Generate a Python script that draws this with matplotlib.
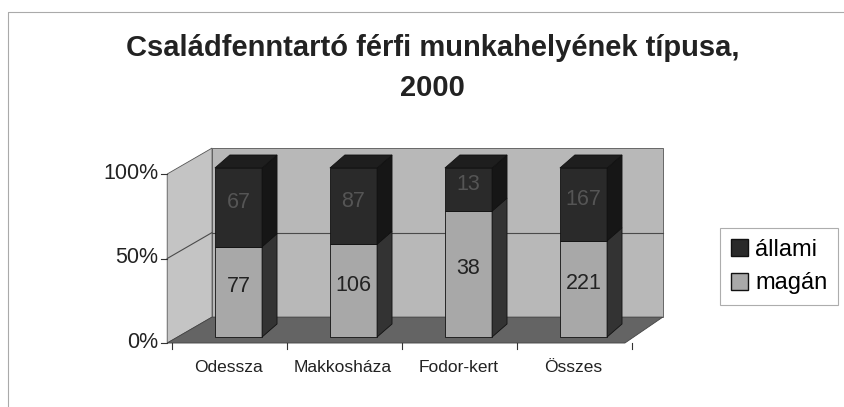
#Családfenntartó férfi munkahelye - 3D-s oszlopdiagram utánzat
import numpy as np
import matplotlib.pyplot as plt
from matplotlib.patches import Polygon, Rectangle, Patch
from matplotlib.lines import Line2D

categories = ['Odessza', 'Makkosháza', 'Fodor-kert', 'Összes']
magan = [77, 106, 38, 221]
allami = [67, 87, 13, 167]
series_names = ['állami', 'magán']
yticks = [0, 50, 100]
ytick_labels = ['0%', '50%', '100%']


def main():
    plt.rcParams['font.family'] = ['Liberation Sans', 'DejaVu Sans']

    magan_pct = 100 * np.array(magan) / (np.array(magan) + np.array(allami))

    fig = plt.figure(figsize=(8.45, 4.07), dpi=100)
    ax = fig.add_axes([0, 0, 1, 1])
    ax.set_xlim(-2.074, 5.274)
    ax.set_ylim(-41.4, 199.4)
    ax.axis('off')

    # falak es padlo (hatso sik es elso sik)
    bx0, bx1, by0 = -0.23, 3.69, 11.8
    fdx, fdy = -0.39, -15.35
    ax.add_patch(Rectangle((bx0, by0), bx1 - bx0, 100, facecolor='#b8b8b8',
                           edgecolor='#555555', lw=0.6, zorder=1))
    ax.add_patch(Polygon([(bx0 + fdx, by0 + fdy), (bx0, by0), (bx0, by0 + 100),
                          (bx0 + fdx, by0 + fdy + 100)], closed=True,
                         facecolor='#c4c4c4', edgecolor='#555555', lw=0.6, zorder=1))
    ax.add_patch(Polygon([(bx0 + fdx, by0 + fdy), (bx1 + fdx + 0.06, by0 + fdy),
                          (bx1, by0), (bx0, by0)], closed=True,
                         facecolor='#646464', edgecolor='#444444', lw=0.6, zorder=1))

    # racsvonal 50%-nal
    ax.plot([bx0, bx1], [by0 + 50, by0 + 50], color='#4a4a4a', lw=0.8, zorder=2)
    ax.plot([bx0 + fdx, bx0], [by0 + fdy + 50, by0 + 50], color='#4a4a4a', lw=0.8, zorder=2)

    # y tengely
    for t, lab in zip(yticks, ytick_labels):
        y = t + by0 + fdy
        ax.plot([bx0 + fdx - 0.05, bx0 + fdx], [y, y], color='#333333', lw=0.8, zorder=2)
        ax.text(bx0 + fdx - 0.08, y + 0.5, lab, ha='right', va='center',
                fontsize=15.5, color='#222222')

    # x tengely osztasok
    for i in range(len(categories) + 1):
        x = i - 0.58
        ax.plot([x, x], [by0 + fdy, by0 + fdy - 3.5], color='#333333', lw=0.8, zorder=2)

    # oszlopok
    w = 0.41
    dx, dy = 0.13, 7.7
    for i in range(len(categories)):
        segs = [(0, magan_pct[i], '#a8a8a8', '#333333', magan[i], '#222222'),
                (magan_pct[i], 100 - magan_pct[i], '#2a2a2a', '#161616', allami[i], '#555555')]
        z = 3 + i
        for b, h, fc, sc, val, tc in segs:
            ax.bar(i, h, bottom=b, width=w, color=fc, edgecolor='#111111', lw=0.6, zorder=z)
            ax.add_patch(Polygon([(i + w / 2, b), (i + w / 2 + dx, b + dy),
                                  (i + w / 2 + dx, b + h + dy), (i + w / 2, b + h)],
                                 closed=True, facecolor=sc, edgecolor='#111111',
                                 lw=0.6, zorder=z))
            ax.text(i, b + h / 2 + 3, str(val), ha='center', va='center',
                    fontsize=15.5, color=tc, zorder=z + 0.5)
        ax.add_patch(Polygon([(i - w / 2, 100), (i + w / 2, 100),
                              (i + w / 2 + dx, 100 + dy), (i - w / 2 + dx, 100 + dy)],
                             closed=True, facecolor='#1e1e1e', edgecolor='#111111',
                             lw=0.6, zorder=z))
        ax.text(i - 0.09, -17.8, categories[i], ha='center', va='center',
                fontsize=12.5, color='#222222')

    fig.text(0.512, 0.833, 'Családfenntartó férfi munkahelyének típusa,\n2000',
             ha='center', va='center', fontsize=21, fontweight='bold',
             color='#222222', linespacing=1.55)

    handles = [Patch(facecolor='#2a2a2a', edgecolor='#111111'),
               Patch(facecolor='#a8a8a8', edgecolor='#111111')]
    leg = ax.legend(handles, series_names, loc='center left',
                    bbox_to_anchor=(720 / 845, (407 - 266.5) / 407),
                    bbox_transform=fig.transFigure, fontsize=17, frameon=True,
                    fancybox=False, handlelength=0.75, handleheight=0.75,
                    handletextpad=0.3, borderpad=0.45, labelspacing=0.5,
                    borderaxespad=0)
    leg.get_frame().set_edgecolor('#999999')
    leg.get_frame().set_linewidth(0.8)

    # keret a diagram korul
    fig.add_artist(Line2D([8 / 845, 8 / 845, 1], [0, 395 / 407, 395 / 407],
                          color='#aaaaaa', lw=0.8))

    fig.savefig('out.png', dpi=100)


if __name__ == "__main__":
    main()
